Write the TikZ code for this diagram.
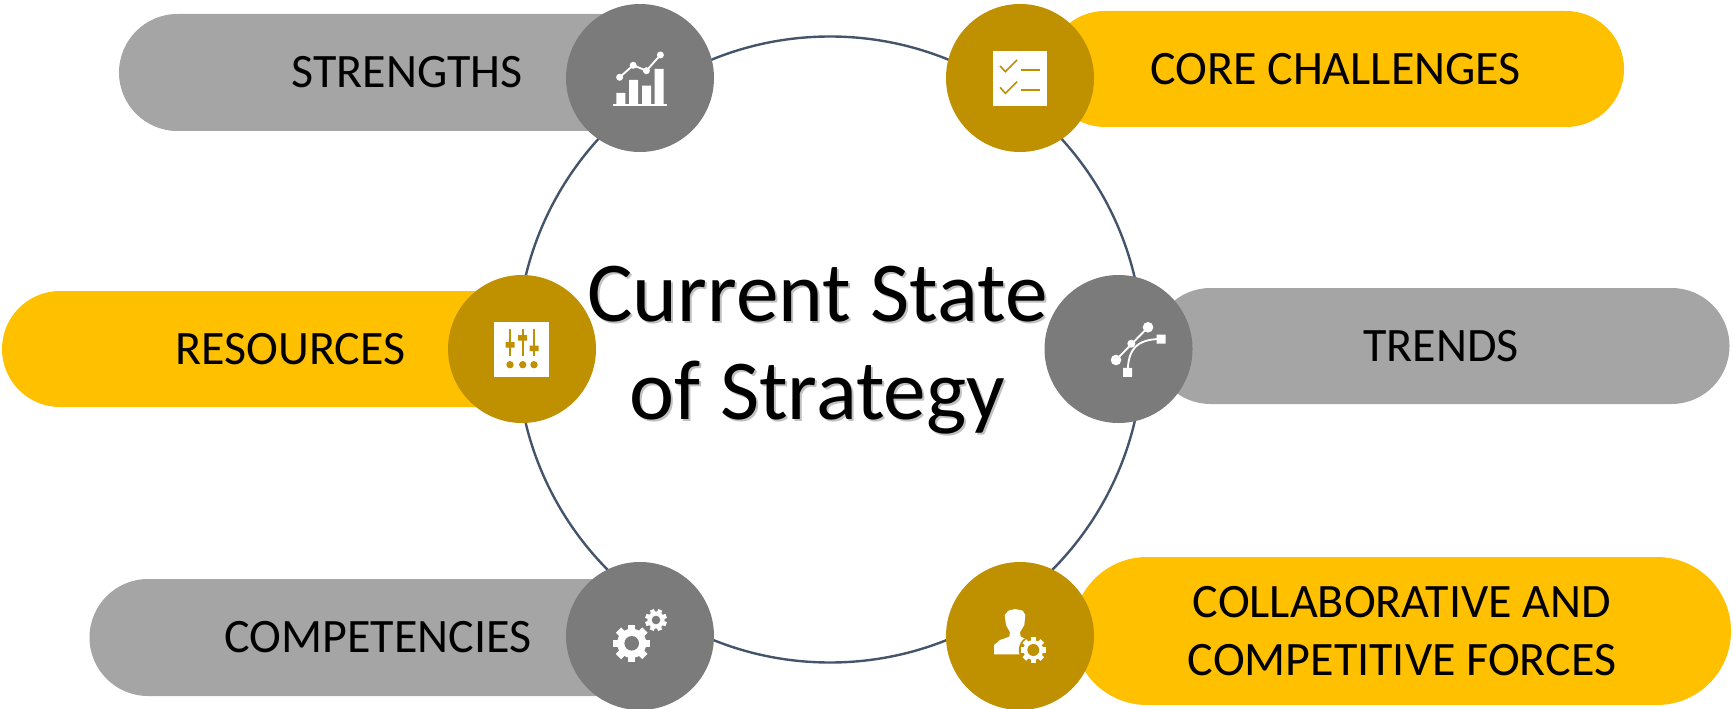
\documentclass[tikz,border=0pt]{standalone}
\usepackage{fontspec}
\setmainfont{Carlito}
\usetikzlibrary{positioning,shapes.misc}
\definecolor{goldpill}{HTML}{FFC000}
\definecolor{goldhub}{HTML}{BF9000}
\definecolor{greypill}{HTML}{A5A5A5}
\definecolor{greyhub}{HTML}{7B7B7B}
\definecolor{ringline}{HTML}{44546A}
\tikzstyle{ring}=[circle, draw=ringline, line width=1.8pt, minimum size=469.5pt, inner sep=0pt, outer sep=0pt]
\tikzstyle{pill}=[rounded rectangle, inner sep=0pt, outer sep=0pt, text=black, align=center, font=\fontsize{36}{43}\selectfont]
\tikzstyle{hub}=[circle, minimum size=111pt, inner sep=0pt, outer sep=0pt]
\tikzstyle{title}=[align=center, font=\fontsize{64}{73}\selectfont]
\tikzstyle{iconline}=[draw=white, line width=1.4pt]
\newcommand{\cogwheel}[6]{%
  \foreach \a in {0,45,...,315}
    \fill[white,rotate around={\a+#6:(#1,#2)}] (#1-#3*0.2,#2) rectangle (#1+#3*0.2,#2-#3);
  \fill[white] (#1,#2) circle ({#3*0.78});
  \fill[#5] (#1,#2) circle (#4);
}
\begin{document}
\begin{tikzpicture}[x=0.75pt,y=-0.75pt]
  \useasboundingbox (0,0) rectangle (1733,709);
  \node[ring] (ring) at (830,349.5) {};
  % pills
  \node[pill, fill=greypill, minimum width=576*0.75pt, minimum height=117*0.75pt] (strengths) at (407,72.5) {STRENGTHS};
  \node[pill, fill=goldpill, minimum width=577*0.75pt, minimum height=116*0.75pt] (challenges) at (1335.5,69) {CORE CHALLENGES};
  \node[pill, fill=goldpill, minimum width=577*0.75pt, minimum height=116*0.75pt] (resources) at (290.5,349) {RESOURCES};
  \node[pill, fill=greypill, minimum width=577*0.75pt, minimum height=116*0.75pt] (trends) at (1441,346) {TRENDS};
  \node[pill, fill=greypill, minimum width=577*0.75pt, minimum height=117*0.75pt] (competencies) at (378,637.5) {COMPETENCIES};
  \node[pill, fill=goldpill, minimum width=658*0.75pt, minimum height=148*0.75pt] (forces) at (1402,631) {COLLABORATIVE AND\\COMPETITIVE FORCES};
  % hubs
  \node[hub, fill=greyhub] (hubstrengths) at (640,78) {};
  \node[hub, fill=goldhub] (hubchallenges) at (1020,78) {};
  \node[hub, fill=goldhub] (hubresources) at (522,349) {};
  \node[hub, fill=greyhub] (hubtrends) at (1118.5,349) {};
  \node[hub, fill=greyhub] (hubcompetencies) at (640,636) {};
  \node[hub, fill=goldhub] (hubforces) at (1020,636) {};
  \node[title, text=black!30, opacity=0.8] (titleshadow) at (819.5,352) {Current State\\of Strategy};
  \node[title] (title) at (817.5,350) {Current State\\of Strategy};
  % chart icon
  \fill[white] (613,104) rectangle (667,106);
  \fill[white] (616.4,93) rectangle (625.4,105) (629,80) rectangle (638,105) (642,85.7) rectangle (651,105) (654.6,69) rectangle (663.6,105);
  \draw[iconline] (619.6,77.3) -- (633.2,65.3) -- (646.4,70.7) -- (660.4,55);
  \fill[white] (619.6,77.3) circle (3.5) (633.2,65.3) circle (3.5) (646.4,70.7) circle (3.5) (660.4,55) circle (3.5);
  % checklist icon
  \fill[white] (993,51) rectangle (1047,105.7);
  \draw[goldhub, line width=1.2pt] (1000,66) -- (1005.4,71.7) -- (1017,60) (1000,87.3) -- (1005.4,93.3) -- (1017,81.7);
  \draw[goldhub, line width=1.2pt] (1020.7,70.3) -- (1040.4,70.3) (1020.7,90) -- (1040.4,90);
  % sliders icon
  \fill[white] (494.3,322.3) rectangle (549.3,376.7);
  \draw[goldhub, line width=1.2pt] (510,329) -- (510,356) (522.7,329) -- (522.7,356) (534,329) -- (534,356);
  \fill[goldhub] (505.5,342) rectangle (514.5,347.5) (518.2,335) rectangle (527.2,340.5) (529.5,345.5) rectangle (538.5,351);
  \fill[goldhub] (510,364.7) circle (3.7) (522.7,364.7) circle (3.7) (534,364.7) circle (3.7);
  % curve icon
  \draw[iconline] (1116,360) -- (1148,327.3);
  \draw[iconline] (1127.7,372) .. controls (1128,350) and (1136,339) .. (1161,339);
  \fill[white] (1131.3,343.7) circle (4) (1148,327.3) circle (5.3) (1116,360) circle (5.3);
  \fill[white] (1156.5,334.5) rectangle (1165.5,343.5) (1123.2,367.8) rectangle (1132.2,376.8);
  % gears icon
  \cogwheel{631.7}{643.3}{18.7}{7.3}{greyhub}{0}
  \cogwheel{656}{620}{11}{4.3}{greyhub}{22}
  % person icon
  \fill[white] (994,654.3) -- (994,645) -- (1000,640) -- (1009.3,636.7) -- (1010,632.3) -- (1006,625) -- (1004.7,615) -- (1008.3,610.7) -- (1015,609) -- (1022.7,610.7) -- (1025.3,615) -- (1024.3,625) -- (1020,632.3) -- (1020.7,636.7) -- (1026,639) -- (1026,654.3) -- cycle;
  \fill[goldhub] (1033.3,650) circle (14.5);
  \cogwheel{1033.3}{650}{12.7}{6}{goldhub}{0}
\end{tikzpicture}
\end{document}
